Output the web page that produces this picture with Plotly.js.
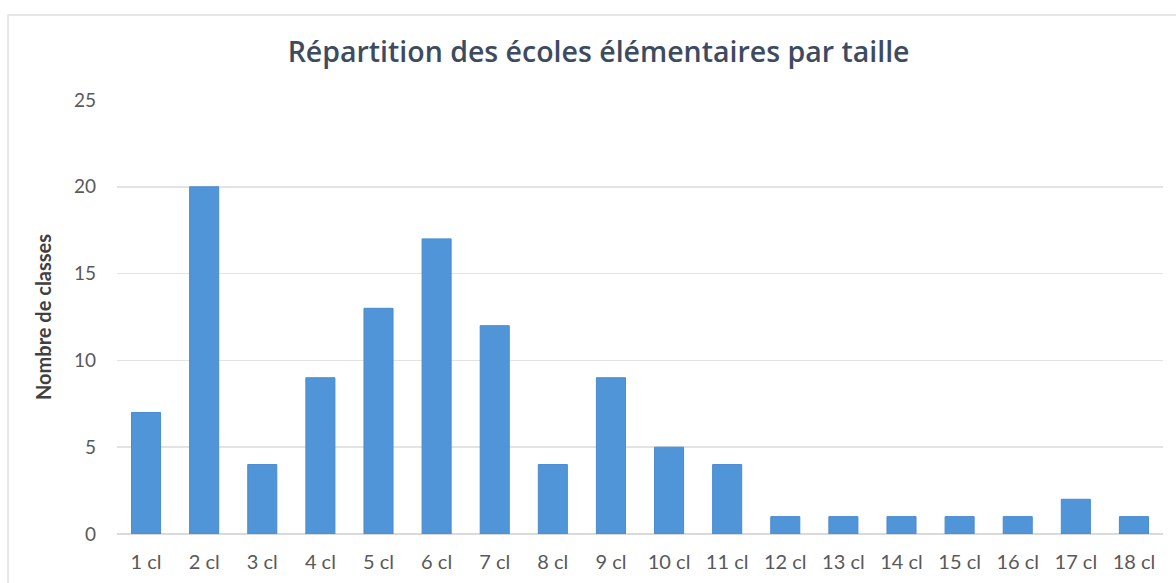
<!DOCTYPE html>
<html>
<head>
<meta charset="utf-8">
<script src="https://cdn.plot.ly/plotly-3.0.1.min.js"></script>
<style>html,body{margin:0;padding:0;background:#fff;}#chart{width:1176px;height:583px;}</style>
</head>
<body>
<div id="chart"></div>
<script>
const categories = ["1 cl","2 cl","3 cl","4 cl","5 cl","6 cl","7 cl","8 cl","9 cl","10 cl","11 cl","12 cl","13 cl","14 cl","15 cl","16 cl","17 cl","18 cl"];
const counts = [7, 20, 4, 9, 13, 17, 12, 4, 9, 5, 4, 1, 1, 1, 1, 1, 2, 1];
const yTicks = [0, 5, 10, 15, 20, 25];

const trace = {
  type: 'bar',
  x: categories,
  y: counts,
  marker: {color: '#5195d9', line: {color: '#4a8ad0', width: 1}},
  hoverinfo: 'x+y'
};

const layout = {
  width: 1176, height: 583,
  margin: {l: 117, r: 13, t: 100, b: 49},
  paper_bgcolor: '#ffffff', plot_bgcolor: '#ffffff',
  bargap: 0.5,
  showlegend: false,
  font: {family: 'Lato, "Open Sans", sans-serif', color: '#595959'},
  title: {
    text: 'Répartition des écoles élémentaires par taille',
    font: {family: '"Open Sans", Lato, sans-serif', size: 28.5, color: '#3d4b60', weight: 600},
    x: 0.509, xanchor: 'center', y: 0.91, yanchor: 'middle'
  },
  xaxis: {
    type: 'category',
    tickfont: {size: 20, color: '#595959'},
    showgrid: false, zeroline: false,
    showline: false, ticks: '', ticklen: 0,
    ticklabelstandoff: 14
  },
  yaxis: {
    range: [0, 25],
    tickvals: yTicks,
    tickfont: {size: 19, color: '#595959'},
    showgrid: true, gridcolor: '#e3e3e3', gridwidth: 1.5,
    zeroline: true, zerolinecolor: '#dadada', zerolinewidth: 1.5,
    ticks: '', ticklabelstandoff: 20,
    title: {
      text: 'Nombre de classes',
      font: {family: 'Lato, "Open Sans", sans-serif', size: 20, color: '#404040', weight: 'bold'},
      standoff: 16
    }
  },
  shapes: [{
    type: 'rect', xref: 'paper', yref: 'paper',
    x0: -0.1042, x1: 1.05, y0: -0.2, y1: 1.196,
    line: {color: '#e0e0e0', width: 1.5}, fillcolor: 'rgba(0,0,0,0)', layer: 'below'
  }]
};

Plotly.newPlot('chart', [trace], layout, {displayModeBar: false, staticPlot: true});
</script>
</body>
</html>
